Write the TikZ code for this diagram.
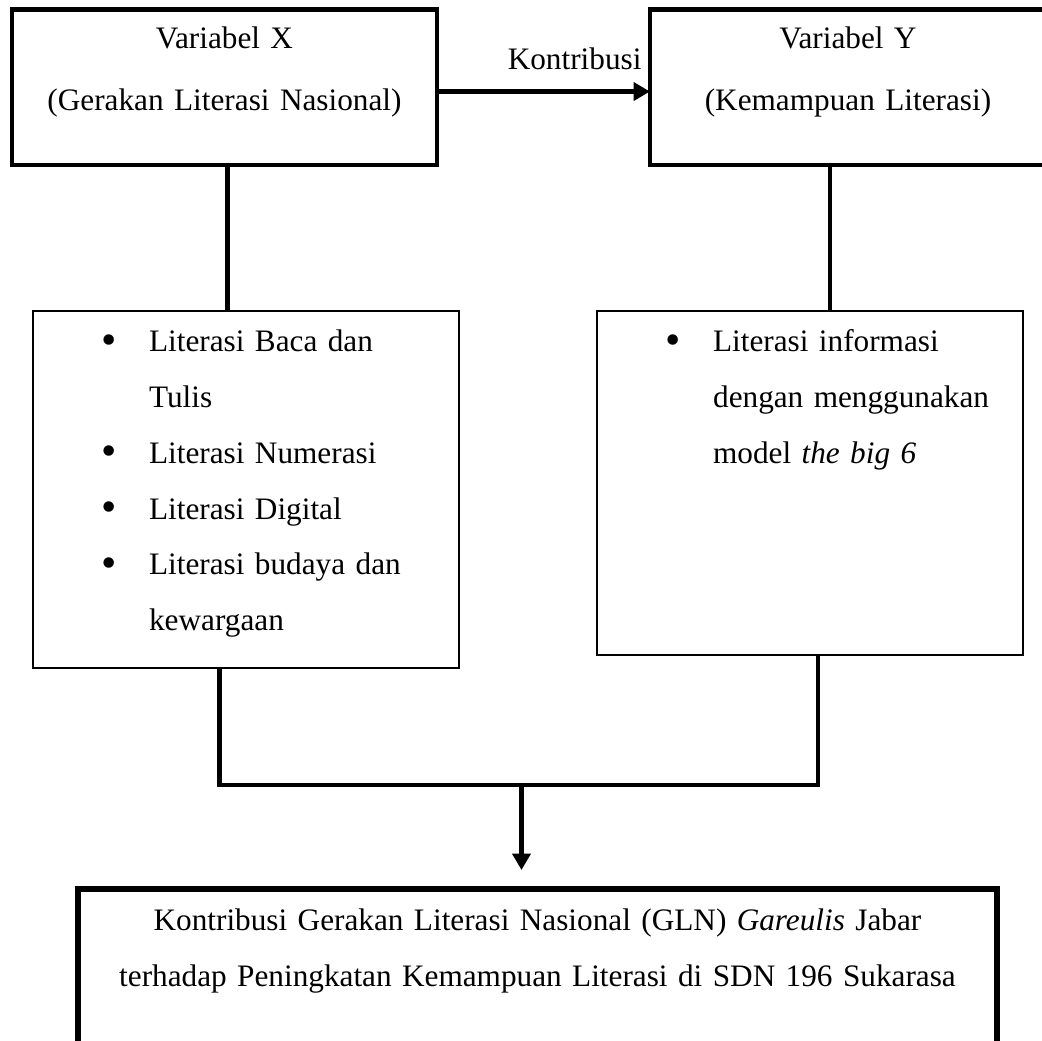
\documentclass[tikz,border=0pt]{standalone}
\usepackage{fontspec}
\setmainfont{Liberation Serif}
\usetikzlibrary{arrows.meta,positioning}

\newcommand{\bitem}[1]{\hspace*{26.2pt}\makebox[18.4pt][l]{\raisebox{-1pt}{\scalebox{1.4}{\textbullet}}}#1}
\newcommand{\bcont}[1]{\hspace*{44.6pt}#1}

\tikzset{
  varbox/.style={draw, line width=1.6pt, outer sep=0pt, inner xsep=0pt, inner ysep=6.6pt,
    anchor=north, align=center, text height=8.2pt, text depth=38.4pt,
    font=\fontsize{12}{23.8}\selectfont},
  listbox/.style={draw, line width=0.8pt, outer sep=0pt, inner xsep=0pt, inner ysep=7.5pt,
    anchor=north, align=left, text width=163.6pt, text height=8.2pt,
    font=\fontsize{12}{21.4}\selectfont},
  resbox/.style={draw, line width=2.2pt, outer sep=0pt, inner xsep=0pt, inner ysep=7.9pt,
    anchor=north, align=center, text width=352.9pt, text height=8.2pt, text depth=60pt,
    font=\fontsize{12}{21.5}\selectfont},
  conn/.style={line width=1.8pt},
  arrow/.style={line width=1.8pt, -{Triangle[length=6.3pt,width=6.9pt]}}
}

\begin{document}
\begin{tikzpicture}[x=0.384pt,y=-0.384pt]
  \useasboundingbox (0,0) rectangle (1042,1041);

  % variabel
  \node[varbox, text width=163.2pt] (varx) at (224.5,9.5) {Variabel X\\(Gerakan Literasi Nasional)};
  \node[varbox, text width=152.1pt] (vary) at (848,9.5) {Variabel Y\\(Kemampuan Literasi)};
  \draw[arrow] ([yshift=-1.6pt]varx.east) -- ([yshift=-1.6pt]vary.west);
  \node[anchor=base east, inner sep=0pt, font=\fontsize{12}{14}\selectfont] (kontrib) at (642,70) {Kontribusi};

  % indikator
  \node[listbox, text depth=113.8pt] (listx) at (246,311) {%
    \bitem{Literasi Baca dan}\\
    \bcont{Tulis}\\
    \bitem{Literasi Numerasi}\\
    \bitem{Literasi Digital}\\
    \bitem{Literasi budaya dan}\\
    \bcont{kewargaan}};
  \node[listbox, text depth=109pt] (listy) at (810,311) {%
    \bitem{Literasi informasi}\\
    \bcont{dengan menggunakan}\\
    \bcont{model \textit{the big 6}}};

  % hasil
  \node[resbox] (result) at (537.5,889) {Kontribusi Gerakan Literasi Nasional (GLN) \textit{Gareulis} Jabar\\
    terhadap Peningkatan Kemampuan Literasi di SDN 196 Sukarasa};

  \coordinate (lx) at (227.5,0);
  \coordinate (ly) at (830,0);
  \coordinate (bx) at (219.5,0);
  \coordinate (by) at (818,0);
  \coordinate (join) at (521.5,785);

  \draw[conn] (varx.south -| lx) -- (listx.north -| lx);
  \draw[conn] (vary.south -| ly) -- (listy.north -| ly);
  \draw[conn] (listx.south -| bx) -- (bx |- join) -- (by |- join) -- (listy.south -| by);
  \draw[arrow, shorten >=7.3pt] (join) -- (result.north -| join);
\end{tikzpicture}
\end{document}
